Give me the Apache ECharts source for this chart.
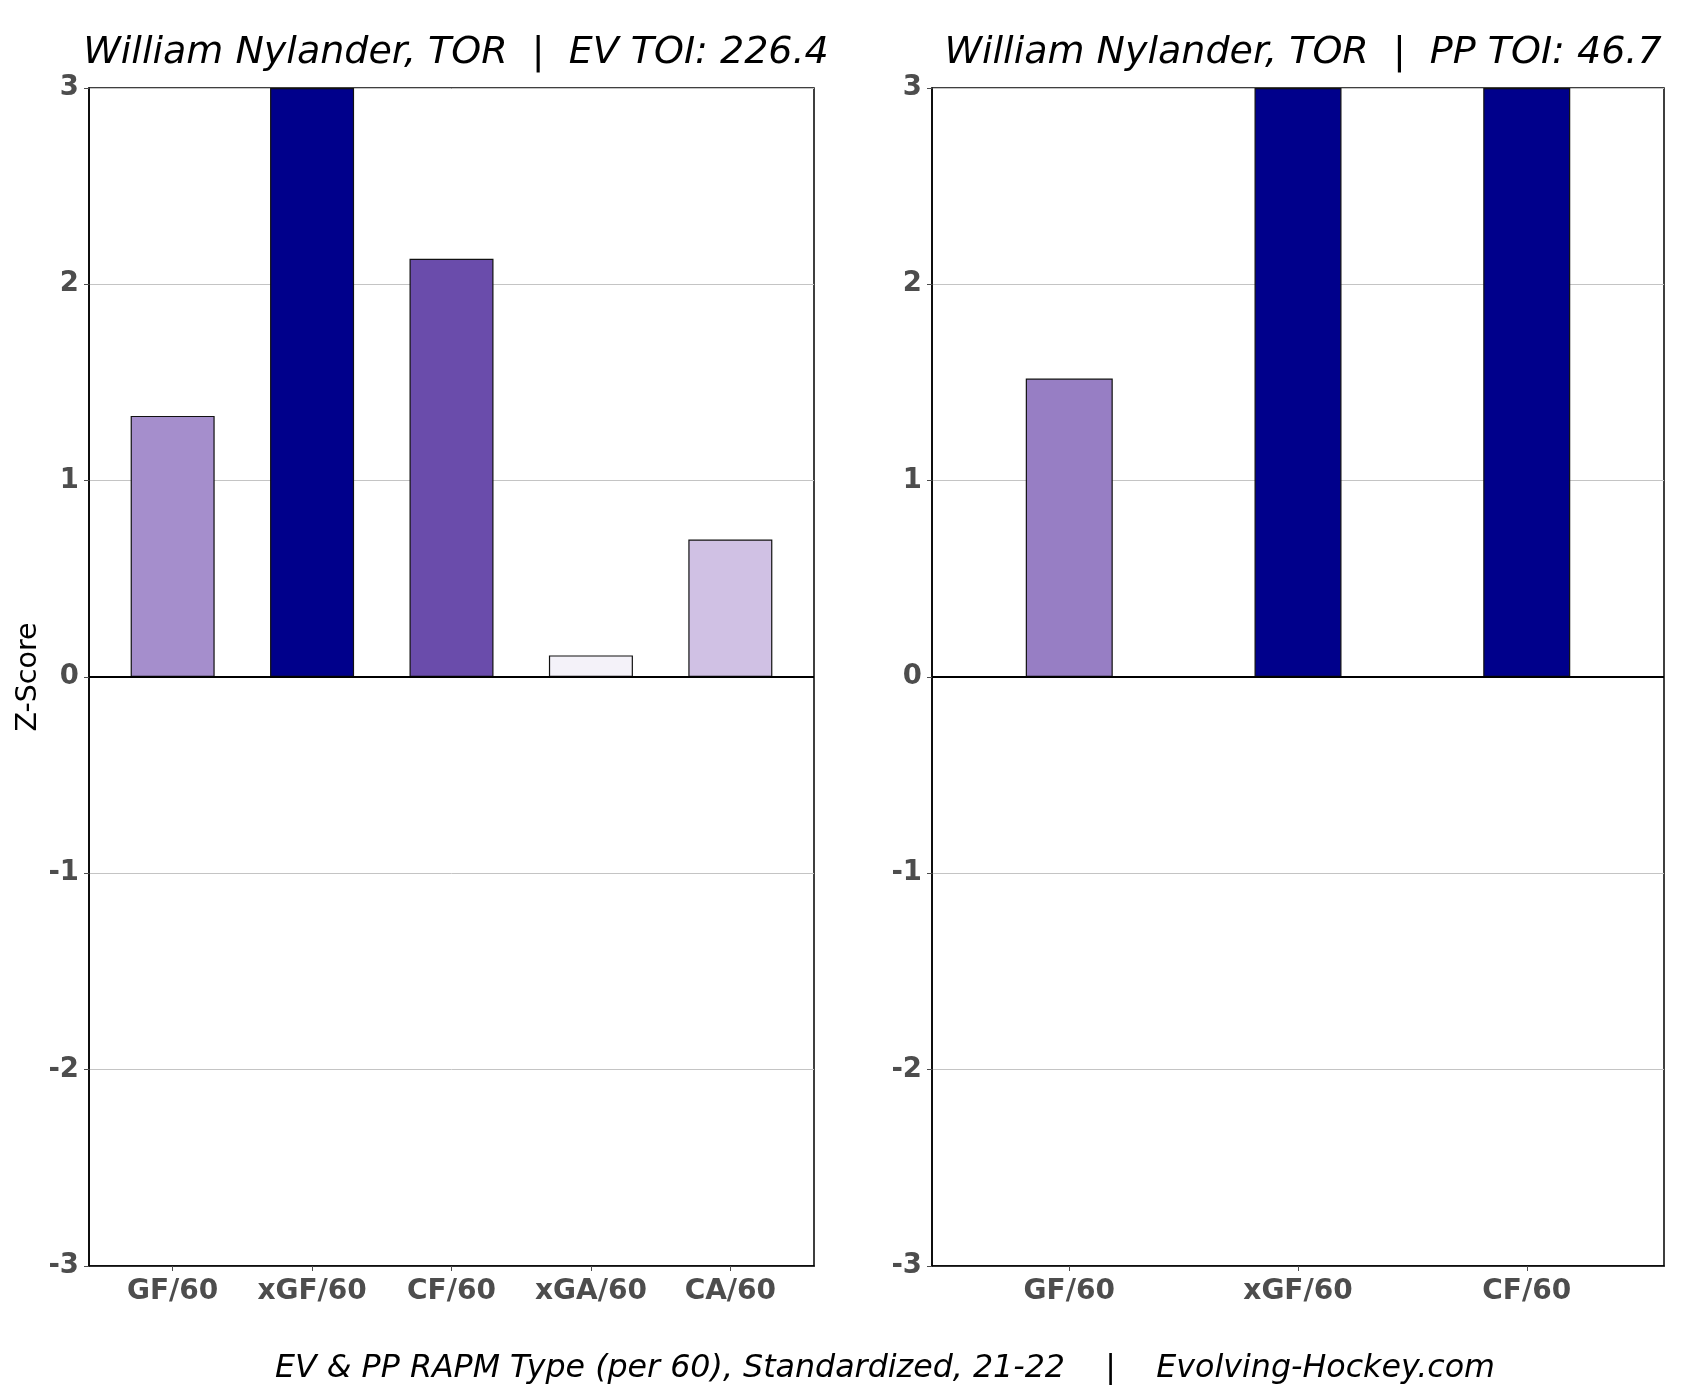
<!DOCTYPE html>
<html>
<head>
<meta charset="utf-8">
<script src="https://cdn.jsdelivr.net/npm/echarts@6/dist/echarts.min.js"></script>
<style>
html,body{margin:0;padding:0;background:#fff;}
#chart{width:1700px;height:1400px;}
</style>
</head>
<body>
<div id="chart"></div>
<script>
// ---- data ----
const evCategories = ['GF/60', 'xGF/60', 'CF/60', 'xGA/60', 'CA/60'];
const evValues = [1.33, 3.0, 2.13, 0.11, 0.70];
const ppCategories = ['GF/60', 'xGF/60', 'CF/60'];
const ppValues = [1.52, 3.0, 3.0];
const yTicks = [-3, -2, -1, 0, 1, 2, 3];
const evTitle = 'William Nylander, TOR  |  EV TOI: 226.4';
const ppTitle = 'William Nylander, TOR  |  PP TOI: 46.7';
const caption = 'EV & PP RAPM Type (per 60), Standardized, 21-22    |    Evolving-Hockey.com';
const yName = 'Z-Score';
// ---- styles ----
const evColors = ['#a58ecc', '#00008b', '#6a4cab', '#f4f2f9', '#d0c1e4'];
const ppColors = ['#977ec4', '#00008b', '#00008b'];

const FONT = '"DejaVu Sans", sans-serif';
const tickColor = '#4d4d4d';

// discrete positions 1..n with 0.6 expansion on each side (like ggplot)
function xAxisCfg(gridIndex, cats) {
  const pos = cats.map((c, i) => i + 1);
  return {
    type: 'value', gridIndex,
    min: 0.4, max: cats.length + 0.6,
    position: 'bottom',
    axisLine: { show: true, onZero: false, lineStyle: { color: '#000', width: 1.5 } },
    axisTick: { show: true, length: 5, customValues: pos, lineStyle: { color: '#4d4d4d' } },
    axisLabel: { color: tickColor, fontFamily: FONT, fontWeight: 'bold', fontSize: 28, margin: 12,
      customValues: pos,
      formatter: v => cats[Math.round(v) - 1] || '' },
    splitLine: { show: false }
  };
}
function yAxisCfg(gridIndex, withName) {
  const c = {
    type: 'value', gridIndex, min: -3, max: 3, interval: 1,
    axisLine: { show: true, lineStyle: { color: '#000', width: 1.5 } },
    axisTick: { show: true, length: 5, lineStyle: { color: '#4d4d4d' } },
    axisLabel: { color: tickColor, fontFamily: FONT, fontWeight: 'bold', fontSize: 27.5, margin: 10,
      formatter: v => (yTicks.indexOf(v) >= 0 ? String(v) : '') },
    splitLine: { show: true, lineStyle: { color: '#c4c4c4', width: 1 } }
  };
  if (withName) {
    c.name = yName;
    c.nameLocation = 'middle';
    c.nameRotate = 90;
    c.nameGap = 46;
    c.nameTextStyle = { color: '#000', fontFamily: FONT, fontSize: 28.5 };
  }
  return c;
}
function barSeries(idx, values, colors, width) {
  return {
    type: 'bar', xAxisIndex: idx, yAxisIndex: idx,
    barWidth: width,
    data: values.map((v, i) => ({ value: [i + 1, v], itemStyle: { color: colors[i] } })),
    itemStyle: { borderColor: '#111', borderWidth: 1.2 },
    silent: true,
    markLine: {
      silent: true, symbol: 'none', label: { show: false },
      lineStyle: { color: '#000', width: 2, type: 'solid' },
      data: [{ yAxis: 0 }]
    }
  };
}

const chart = echarts.init(document.getElementById('chart'), null, { renderer: 'canvas' });
chart.setOption({
  backgroundColor: '#fff',
  animation: false,
  title: [
    { text: evTitle, left: 451, top: 29, textAlign: 'center',
      textStyle: { fontFamily: FONT, fontStyle: 'italic', fontWeight: 'normal', fontSize: 38, color: '#000' } },
    { text: ppTitle, left: 1298, top: 29, textAlign: 'center',
      textStyle: { fontFamily: FONT, fontStyle: 'italic', fontWeight: 'normal', fontSize: 38, color: '#000' } },
    { text: caption, left: 880, top: 1348, textAlign: 'center',
      textStyle: { fontFamily: FONT, fontStyle: 'italic', fontWeight: 'normal', fontSize: 31.7, color: '#000' } }
  ],
  grid: [
    { left: 89, right: 886, top: 88, bottom: 134, show: true, borderColor: '#000', borderWidth: 1.5, backgroundColor: '#fff' },
    { left: 932, right: 36, top: 88, bottom: 134, show: true, borderColor: '#000', borderWidth: 1.5, backgroundColor: '#fff' }
  ],
  xAxis: [xAxisCfg(0, evCategories), xAxisCfg(1, ppCategories)],
  yAxis: [yAxisCfg(0, true), yAxisCfg(1, false)],
  series: [barSeries(0, evValues, evColors, 84), barSeries(1, ppValues, ppColors, 87)]
});
</script>
</body>
</html>
